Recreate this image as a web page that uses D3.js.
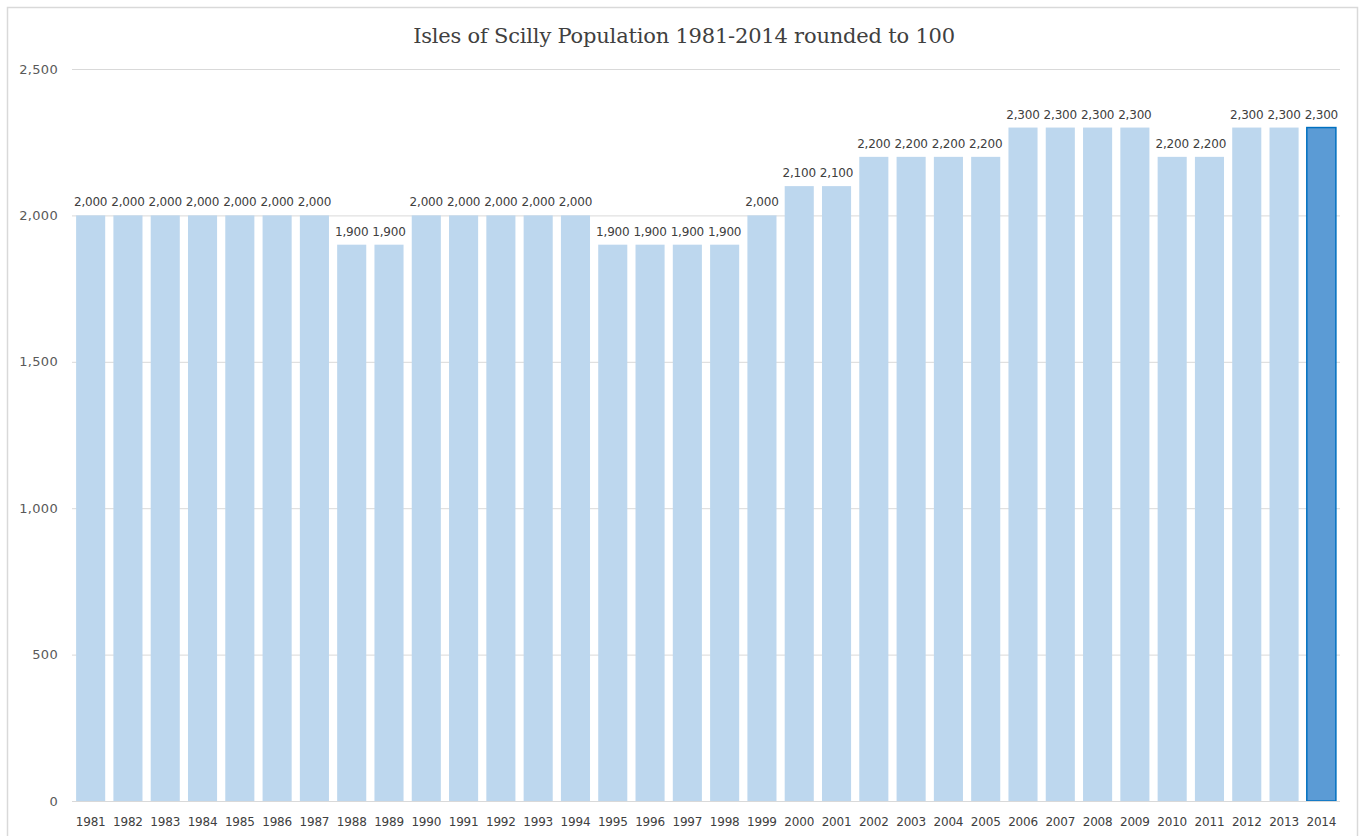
<!DOCTYPE html>
<html>
<head>
<meta charset="utf-8">
<script src="https://cdn.jsdelivr.net/npm/d3@7"></script>
<style>
  body { margin: 0; background: #fff; }
</style>
</head>
<body>
<svg id="chart" width="1365" height="836"></svg>
<script>
// data
let years = [1981, 1982, 1983, 1984, 1985, 1986, 1987, 1988, 1989, 1990, 1991, 1992, 1993, 1994,
  1995, 1996, 1997, 1998, 1999, 2000, 2001, 2002, 2003, 2004, 2005, 2006, 2007, 2008, 2009,
  2010, 2011, 2012, 2013, 2014];
let population = [2000, 2000, 2000, 2000, 2000, 2000, 2000, 1900, 1900, 2000, 2000, 2000, 2000, 2000,
  1900, 1900, 1900, 1900, 2000, 2100, 2100, 2200, 2200, 2200, 2200, 2300, 2300, 2300, 2300,
  2200, 2200, 2300, 2300, 2300];
let yTicks = [0, 500, 1000, 1500, 2000, 2500];
let highlightYear = 2014;

let svg = d3.select("#chart");
let labelColor = "#595959";
let gridColor = "#d9d9d9";

// chart frame
svg.append("rect")
  .attr("x", 7.5)
  .attr("y", 7.5)
  .attr("width", 1350)
  .attr("height", 840)
  .style("fill", "#fff")
  .style("stroke", gridColor)
  .style("stroke-width", 1.5);

let x = d3.scaleBand()
  .domain(years)
  .range([72, 1340])
  .paddingInner(0.22)
  .paddingOuter(0.11);

let y = d3.scaleLinear()
  .domain([0, 2500])
  .range([801, 69]);

// gridlines
svg.selectAll(".grid")
  .data(yTicks)
  .enter().append("line")
  .attr("class", "grid")
  .attr("x1", 72)
  .attr("x2", 1340)
  .attr("y1", d => y(d) + 0.5)
  .attr("y2", d => y(d) + 0.5)
  .style("stroke", gridColor)
  .style("stroke-width", 1);

// y tick labels
svg.selectAll(".ytick")
  .data(yTicks)
  .enter().append("text")
  .attr("class", "ytick")
  .attr("x", 58)
  .attr("y", d => y(d))
  .attr("dy", "0.35em")
  .text(d => d3.format(",")(d))
  .style("text-anchor", "end")
  .style("fill", labelColor)
  .style("font-family", "DejaVu Sans, sans-serif")
  .style("font-size", "13px")
  .style("letter-spacing", "0.3px");

let data = years.map((yr, i) => ({ year: yr, value: population[i] }));

// bars
svg.selectAll(".bar")
  .data(data)
  .enter().append("rect")
  .attr("class", "bar")
  .attr("x", d => x(d.year))
  .attr("y", d => y(d.value))
  .attr("width", x.bandwidth())
  .attr("height", d => y(0) - y(d.value))
  .style("fill", d => d.year === highlightYear ? "#5b9bd5" : "#bdd7ee")
  .style("stroke", d => d.year === highlightYear ? "#0070c0" : "none")
  .style("stroke-width", 1.5);

// redraw the baseline on top of the bars
svg.append("line")
  .attr("x1", 72)
  .attr("x2", 1340)
  .attr("y1", y(0) + 0.5)
  .attr("y2", y(0) + 0.5)
  .style("stroke", gridColor)
  .style("stroke-width", 1);

// value labels
svg.selectAll(".vlabel")
  .data(data)
  .enter().append("text")
  .attr("class", "vlabel")
  .attr("x", d => x(d.year) + x.bandwidth() / 2)
  .attr("y", d => y(d.value) - 9)
  .text(d => d3.format(",")(d.value))
  .style("text-anchor", "middle")
  .style("fill", "#404040")
  .style("font-family", "DejaVu Sans, sans-serif")
  .style("font-size", "12px")
  .style("letter-spacing", "-0.2px");

// x labels
svg.selectAll(".xlabel")
  .data(years)
  .enter().append("text")
  .attr("class", "xlabel")
  .attr("x", d => x(d) + x.bandwidth() / 2)
  .attr("y", 826)
  .text(d => d)
  .style("text-anchor", "middle")
  .style("fill", "#404040")
  .style("font-family", "DejaVu Sans, sans-serif")
  .style("font-size", "12px")
  .style("letter-spacing", "-0.2px");

// title
svg.append("text")
  .attr("x", 684)
  .attr("y", 43)
  .text("Isles of Scilly Population 1981-2014 rounded to 100")
  .style("text-anchor", "middle")
  .style("fill", "#404040")
  .style("font-family", "DejaVu Serif, serif")
  .style("font-size", "21px")
  .style("letter-spacing", "-0.2px");
</script>
</body>
</html>
